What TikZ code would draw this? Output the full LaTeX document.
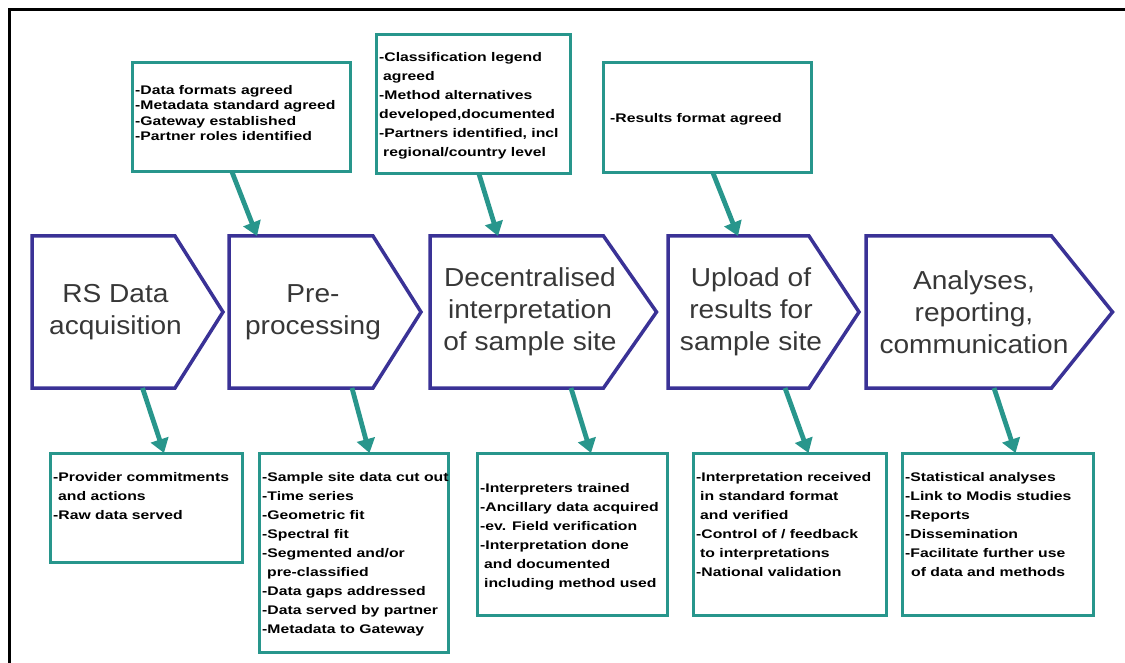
\documentclass[tikz,border=0pt]{standalone}
\usepackage{fontspec}
\usepackage{tikz}
\usetikzlibrary{arrows.meta}
\setmainfont{Liberation Sans}
\newfontfamily\chevfont[FakeStretch=1.08]{Liberation Sans}
\newfontfamily\listfont[FakeStretch=1.26]{Liberation Sans}
\definecolor{tealline}{RGB}{40,150,140}
\definecolor{chevblue}{RGB}{58,50,150}
\definecolor{chevtext}{RGB}{55,55,55}
\tikzset{
  chevron/.style={anchor=north west, minimum height=152pt, inner sep=0pt, outer sep=0pt, align=center, text=chevtext, font=\chevfont\fontsize{26}{32}\selectfont},
  listbox/.style={draw=tealline, line width=3pt, anchor=north west, inner sep=0pt, outer sep=0pt},
  listtext/.style={anchor=north west, inner sep=0pt, align=left, text=black, font=\listfont\bfseries\fontsize{12.5}{19}\selectfont},
  flow/.style={->, >={Triangle[width=18pt,length=14pt]}, line width=4.8pt, tealline}
}
\begin{document}
\begin{tikzpicture}[x=1pt, y=-1pt]
\useasboundingbox (0,0) rectangle (1125,663);
\draw[line width=3pt] (9,663) -- (9,10) -- (1125,10);

% agreements above the chain
\node[listbox, minimum width=218pt, minimum height=109pt] (fmt) at (132,63) {};
\node[listtext, font=\listfont\bfseries\fontsize{12.5}{15.5}\selectfont] (fmttxt) at ([xshift=3pt,yshift=-22pt]fmt.north west) {-Data formats agreed\\-Metadata standard agreed\\-Gateway established\\-Partner roles identified};
\node[listbox, minimum width=194pt, minimum height=139pt] (leg) at (376,35) {};
\node[listtext] (legtxt) at ([xshift=3pt,yshift=-17pt]leg.north west) {-Classification legend\\\hspace*{4pt}agreed\\-Method alternatives\\developed,documented\\-Partners identified, incl\\\hspace*{4pt}regional/country level};
\node[listbox, minimum width=208pt, minimum height=110pt] (res) at (603,63) {};
\node[listtext] (restxt) at ([xshift=7pt,yshift=-50pt]res.north west) {-Results format agreed};

% the process chain
\node[chevron, minimum width=167pt] (acq) at (32,236) {RS Data\\acquisition};
\node[chevron, minimum width=168pt] (pre) at (229,236) {Pre-\\processing};
\node[chevron, minimum width=200pt] (interp) at (430,236) {Decentralised\\interpretation\\of sample site};
\node[chevron, minimum width=166pt] (upload) at (668,236) {Upload of\\results for\\sample site};
\node[chevron, minimum width=216pt] (report) at (866,236) {Analyses,\\reporting,\\communication};
\foreach \c/\d in {acq/24,pre/24,interp/26.5,upload/25,report/30.5}
  \draw[chevblue, line width=3.5pt, line join=miter] (\c.north west) -- ([xshift=-\d pt]\c.north east) -- ([xshift=\d pt]\c.east) -- ([xshift=-\d pt]\c.south east) -- (\c.south west) -- cycle;

% results below the chain
\node[listbox, minimum width=192pt, minimum height=109pt] (acqbox) at (50,453) {};
\node[listtext] (acqtxt) at ([xshift=3pt,yshift=-19pt]acqbox.north west) {-Provider commitments\\\hspace*{5pt}and actions\\-Raw data served};
\node[listbox, minimum width=189pt, minimum height=199pt] (prebox) at (259,453) {};
\node[listtext] (pretxt) at ([xshift=3pt,yshift=-19pt]prebox.north west) {-Sample site data cut out\\-Time series\\-Geometric fit\\-Spectral fit\\-Segmented and/or\\\hspace*{5pt}pre-classified\\-Data gaps addressed\\-Data served by partner\\-Metadata to Gateway};
\node[listbox, minimum width=190pt, minimum height=162pt] (interpbox) at (477,453) {};
\node[listtext] (interptxt) at ([xshift=3pt,yshift=-30pt]interpbox.north west) {-Interpreters trained\\-Ancillary data acquired\\-ev. Field verification\\-Interpretation done\\\hspace*{4pt}and documented\\\hspace*{4pt}including method used};
\node[listbox, minimum width=193pt, minimum height=162pt] (uploadbox) at (693,453) {};
\node[listtext] (uploadtxt) at ([xshift=3pt,yshift=-19pt]uploadbox.north west) {-Interpretation received\\\hspace*{4pt}in standard format\\\hspace*{4pt}and verified\\-Control of / feedback\\\hspace*{4pt}to interpretations\\-National validation};
\node[listbox, minimum width=191pt, minimum height=162pt] (reportbox) at (902,453) {};
\node[listtext] (reporttxt) at ([xshift=3pt,yshift=-19pt]reportbox.north west) {-Statistical analyses\\-Link to Modis studies\\-Reports\\-Dissemination\\-Facilitate further use\\\hspace*{6pt}of data and methods};

% arrows
\draw[flow] ([xshift=-9pt]fmt.south) -- ([xshift=-56pt]pre.north);
\draw[flow] ([xshift=6pt]leg.south) -- ([xshift=-32pt]interp.north);
\draw[flow] ([xshift=6pt]res.south) -- ([xshift=-13pt]upload.north);
\draw[flow] ([xshift=27pt]acq.south) -- ([xshift=18pt]acqbox.north);
\draw[flow] ([xshift=39pt]pre.south) -- ([xshift=16pt]prebox.north);
\draw[flow] ([xshift=41pt]interp.south) -- ([xshift=19pt]interpbox.north);
\draw[flow] ([xshift=34pt]upload.south) -- ([xshift=19pt]uploadbox.north);
\draw[flow] ([xshift=20pt]report.south) -- ([xshift=18pt]reportbox.north);
\end{tikzpicture}
\end{document}
